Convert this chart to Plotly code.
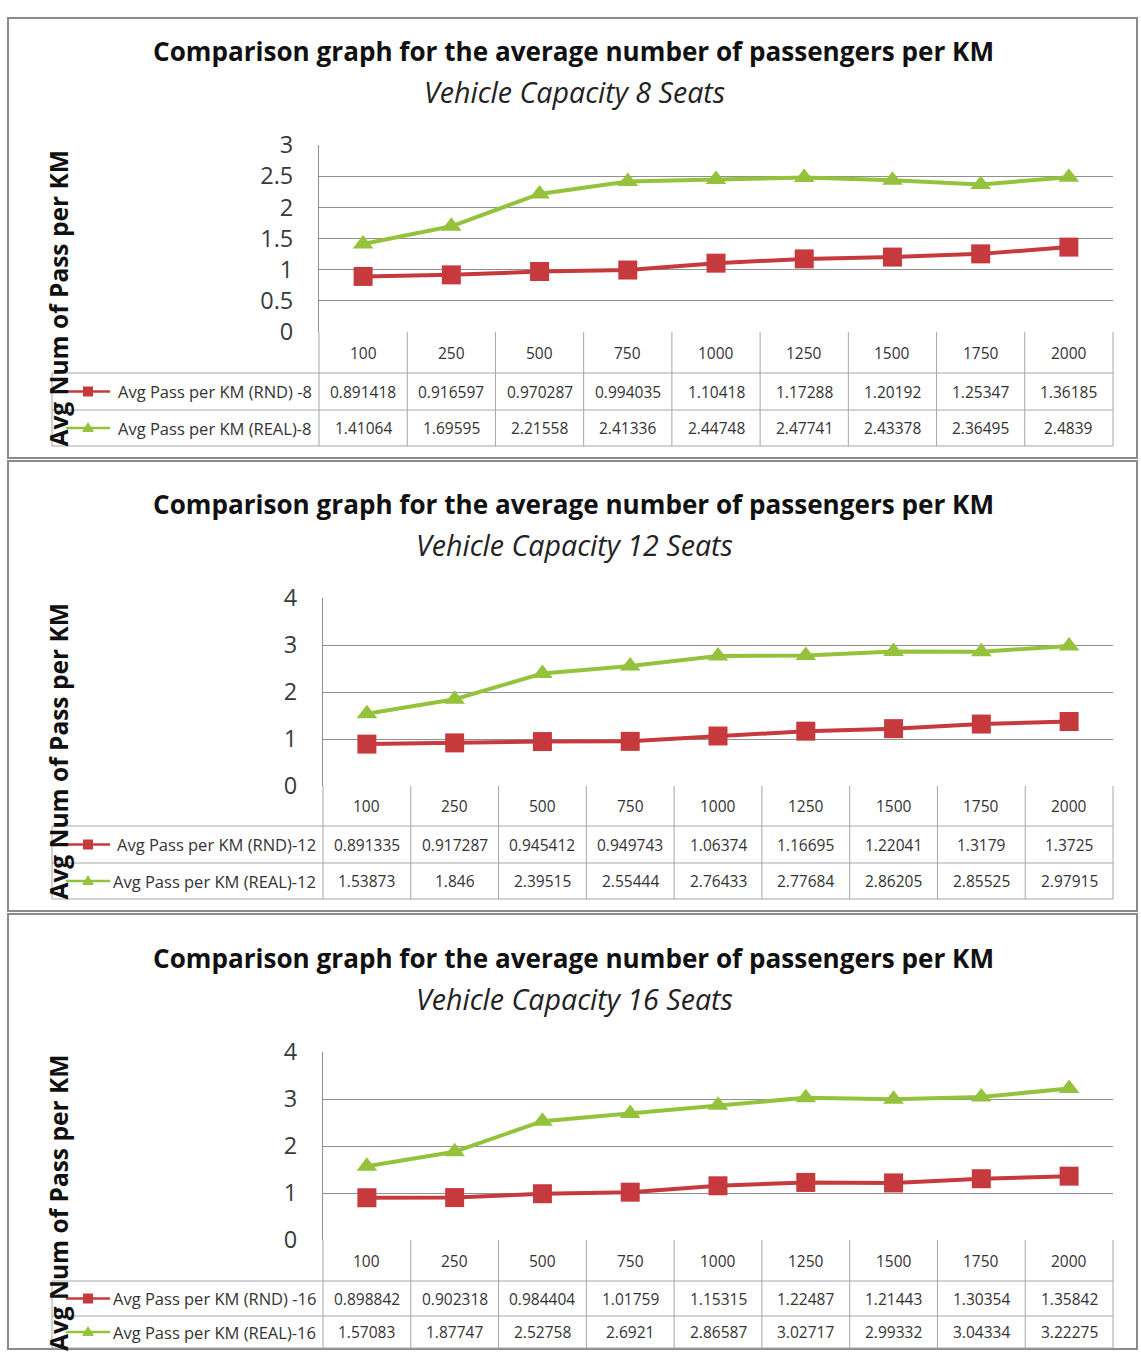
import plotly.graph_objects as go

W, H = 1141, 1364

# Trip-distance categories shared by all three panels
distances = ["100", "250", "500", "750", "1000", "1250", "1500", "1750", "2000"]

# Average passengers per km, random vs. real demand, per vehicle capacity
rnd_8 = [0.891418, 0.916597, 0.970287, 0.994035, 1.10418, 1.17288, 1.20192, 1.25347, 1.36185]
real_8 = [1.41064, 1.69595, 2.21558, 2.41336, 2.44748, 2.47741, 2.43378, 2.36495, 2.4839]
rnd_12 = [0.891335, 0.917287, 0.945412, 0.949743, 1.06374, 1.16695, 1.22041, 1.3179, 1.3725]
real_12 = [1.53873, 1.846, 2.39515, 2.55444, 2.76433, 2.77684, 2.86205, 2.85525, 2.97915]
rnd_16 = [0.898842, 0.902318, 0.984404, 1.01759, 1.15315, 1.22487, 1.21443, 1.30354, 1.35842]
real_16 = [1.57083, 1.87747, 2.52758, 2.6921, 2.86587, 3.02717, 2.99332, 3.04334, 3.22275]

capacities = [8, 12, 16]
rnd_series = [rnd_8, rnd_12, rnd_16]
real_series = [real_8, real_12, real_16]
rnd_names = ["Avg Pass per KM (RND) -8", "Avg Pass per KM (RND)-12", "Avg Pass per KM (RND) -16"]
real_names = ["Avg Pass per KM (REAL)-8", "Avg Pass per KM (REAL)-12", "Avg Pass per KM (REAL)-16"]
y_max = [3, 4, 4]
y_step = [0.5, 1, 1]

TITLE = "Comparison graph for the average number of passengers per KM"
SUBTITLE = "Vehicle Capacity {} Seats"
Y_TITLE = "Avg Num of Pass per KM"

RED = "#C63A3D"
GREEN = "#95C23D"
GRID = "#8f8f8f"
TABLE_LINE = "#a6a6a6"
FONT = "Open Sans"

# Layout grid in screen pixels (top-down), one entry per stacked panel
panels = [
    dict(top=17, bottom=457, title_y=50, sub_y=90, plot_top=144, plot_bottom=331,
         x0=319, row1=372, row2=409, tbot=445),
    dict(top=460, bottom=910, title_y=503, sub_y=544, plot_top=597, plot_bottom=785,
         x0=323, row1=825, row2=862, tbot=898),
    dict(top=913, bottom=1348, title_y=957, sub_y=997, plot_top=1051, plot_bottom=1239,
         x0=323, row1=1280, row2=1315, tbot=1347),
]
X1 = 1113
TABLE_LEFT = 52
GRID_TOP = 16      # screen row of the page top
GRID_SPAN = 1332   # screen rows covered by the page


def px(x):
    return x / W


def py(y):
    return 1 - (y - GRID_TOP) / GRID_SPAN


fig = go.Figure()
shapes = []
annotations = []
layout_axes = {}

for i, p in enumerate(panels):
    n = "" if i == 0 else str(i + 1)
    xa, ya = "x" + n, "y" + n

    fig.add_trace(go.Scatter(
        x=list(range(len(distances))), y=rnd_series[i], xaxis=xa, yaxis=ya,
        mode="lines+markers", name=rnd_names[i], showlegend=False,
        line=dict(color=RED, width=4),
        marker=dict(symbol="square", size=19, color=RED),
    ))
    fig.add_trace(go.Scatter(
        x=list(range(len(distances))), y=real_series[i], xaxis=xa, yaxis=ya,
        mode="lines+markers", name=real_names[i], showlegend=False,
        line=dict(color=GREEN, width=4),
        marker=dict(symbol="triangle-up", size=18, color=GREEN),
    ))

    layout_axes["xaxis" + n] = dict(
        domain=[px(p["x0"]), px(X1)], range=[-0.5, len(distances) - 0.5],
        anchor=ya, showgrid=False, zeroline=False, showline=False,
        showticklabels=False, fixedrange=True,
    )
    ticks = []
    v = 0.0
    while v <= y_max[i] + 1e-9:
        ticks.append(round(v, 2))
        v += y_step[i]
    layout_axes["yaxis" + n] = dict(
        domain=[py(p["plot_bottom"]), py(p["plot_top"])], range=[0, y_max[i]],
        anchor=xa, tickvals=ticks, showgrid=True, gridcolor=GRID, gridwidth=1,
        zeroline=False, showline=True, linecolor=GRID, linewidth=1,
        ticks="outside", ticklen=20, tickcolor="rgba(0,0,0,0)",
        tickfont=dict(family=FONT, size=23.5, color="#3a3a3a"), fixedrange=True,
    )

    # panel frame
    shapes.append(dict(type="rect", xref="paper", yref="paper",
                       x0=px(8), x1=px(1137), y0=py(p["bottom"]), y1=py(p["top"]),
                       line=dict(color="#8a8a8a", width=2), layer="below"))

    # titles
    annotations.append(dict(xref="paper", yref="paper", x=px(573), y=py(p["title_y"]),
                            text="<b>" + TITLE + "</b>", showarrow=False,
                            xanchor="center", yanchor="middle",
                            font=dict(family=FONT, size=26.1, color="#111111")))
    annotations.append(dict(xref="paper", yref="paper", x=px(574), y=py(p["sub_y"]),
                            text="<i>" + SUBTITLE.format(capacities[i]) + "</i>",
                            showarrow=False, xanchor="center", yanchor="middle",
                            font=dict(family=FONT, size=28.6, color="#222222")))
    # y-axis title
    annotations.append(dict(xref="paper", yref="paper", x=px(58),
                            y=py((p["plot_top"] + p["tbot"]) / 2 + 3),
                            text="<b>" + Y_TITLE + "</b>", textangle=-90,
                            showarrow=False, xanchor="center", yanchor="middle",
                            font=dict(family=FONT, size=24.5, color="#111111")))

    # data table grid
    col_w = (X1 - p["x0"]) / len(distances)
    for k in range(len(distances) + 1):
        xx = p["x0"] + k * col_w
        shapes.append(dict(type="line", xref="paper", yref="paper",
                           x0=px(xx), x1=px(xx), y0=py(p["plot_bottom"]), y1=py(p["tbot"]),
                           line=dict(color=TABLE_LINE, width=1)))
    shapes.append(dict(type="line", xref="paper", yref="paper",
                       x0=px(TABLE_LEFT), x1=px(TABLE_LEFT), y0=py(p["row1"]), y1=py(p["tbot"]),
                       line=dict(color=TABLE_LINE, width=1)))
    for yy in (p["row1"], p["row2"], p["tbot"]):
        shapes.append(dict(type="line", xref="paper", yref="paper",
                           x0=px(TABLE_LEFT), x1=px(X1), y0=py(yy), y1=py(yy),
                           line=dict(color=TABLE_LINE, width=1)))

    head_c = (p["plot_bottom"] + p["row1"]) / 2
    r1_c = (p["row1"] + p["row2"]) / 2
    r2_c = (p["row2"] + p["tbot"]) / 2
    cell_font = dict(family=FONT, size=15.5, color="#333333")
    for j, d in enumerate(distances):
        annotations.append(dict(xref=xa, yref="paper", x=j, y=py(head_c), text=d,
                                showarrow=False, xanchor="center", yanchor="middle",
                                font=cell_font))
        annotations.append(dict(xref=xa, yref="paper", x=j, y=py(r1_c),
                                text=str(rnd_series[i][j]), showarrow=False,
                                xanchor="center", yanchor="middle", font=cell_font))
        annotations.append(dict(xref=xa, yref="paper", x=j, y=py(r2_c),
                                text=str(real_series[i][j]), showarrow=False,
                                xanchor="center", yanchor="middle", font=cell_font))

    # row labels with legend keys
    for cy, name, col, kind in ((r1_c, rnd_names[i], RED, "sq"), (r2_c, real_names[i], GREEN, "tri")):
        shapes.append(dict(type="line", xref="paper", yref="paper",
                           x0=px(66), x1=px(110), y0=py(cy), y1=py(cy),
                           line=dict(color=col, width=2.5)))
        if kind == "sq":
            shapes.append(dict(type="rect", xref="paper", yref="paper",
                               x0=px(83), x1=px(93), y0=py(cy + 5), y1=py(cy - 5),
                               fillcolor=col, line=dict(width=0)))
        else:
            path = "M {} {} L {} {} L {} {} Z".format(px(82), py(cy + 4), px(94), py(cy + 4),
                                                     px(88), py(cy - 6))
            shapes.append(dict(type="path", xref="paper", yref="paper", path=path,
                               fillcolor=col, line=dict(width=0)))
        annotations.append(dict(xref="paper", yref="paper", x=px(p["x0"] - 5), y=py(cy),
                                text=name, showarrow=False, xanchor="right", yanchor="middle",
                                font=dict(family=FONT, size=16.5, color="#333333")))

fig.update_layout(
    width=W, height=H, autosize=False,
    margin=dict(l=0, r=0, t=0, b=0),
    paper_bgcolor="white", plot_bgcolor="white",
    showlegend=False,
    shapes=shapes, annotations=annotations,
    **layout_axes,
)

fig.write_html("out.html")
